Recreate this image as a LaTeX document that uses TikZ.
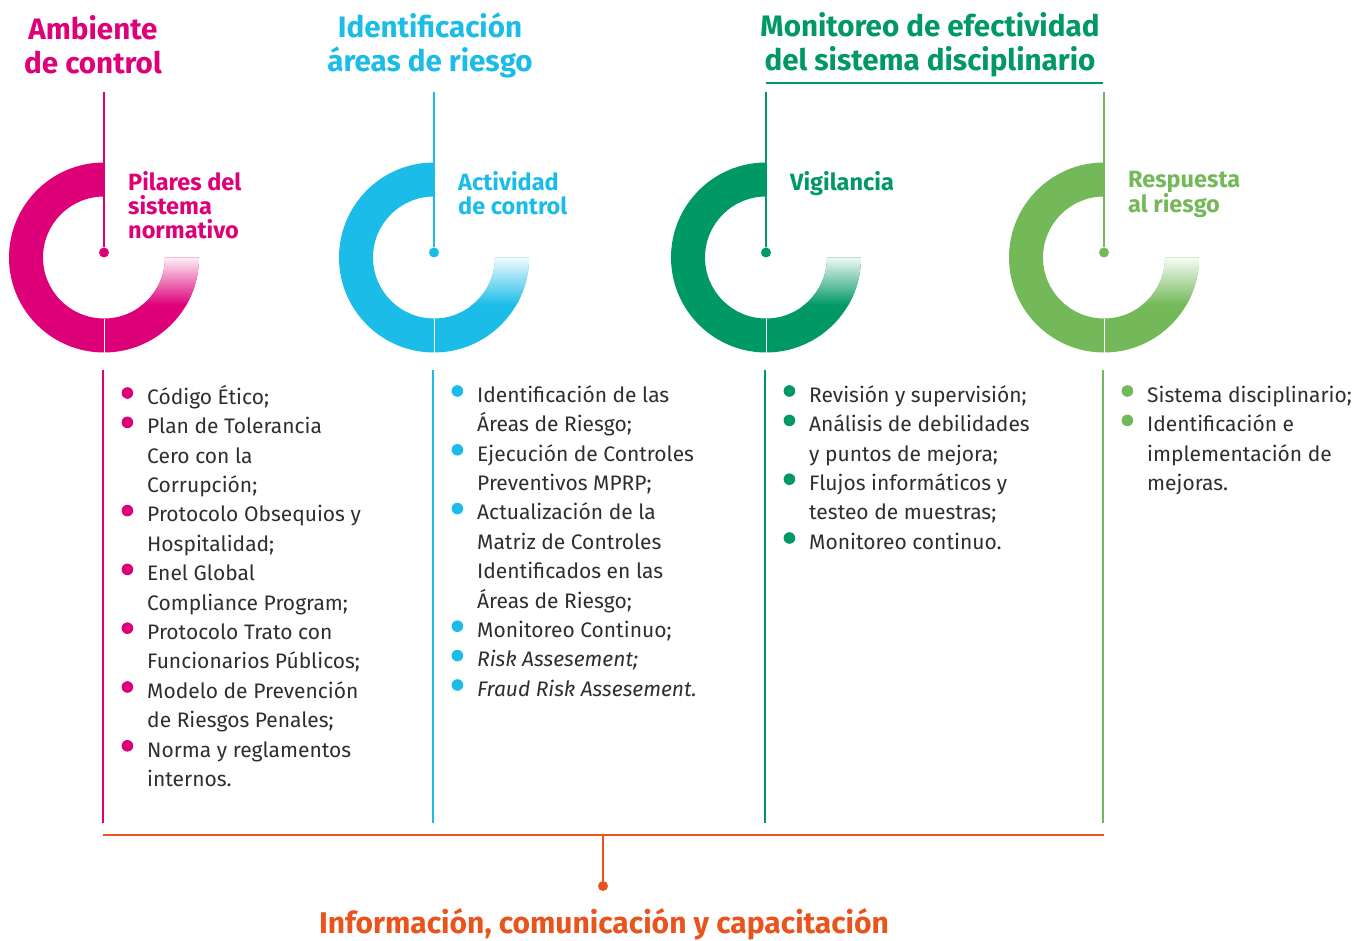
\documentclass[tikz,border=0pt]{standalone}
\usepackage{fontspec}
\setmainfont{Fira Sans}
\usetikzlibrary{positioning}
\definecolor{enelpink}{HTML}{DE0079}
\definecolor{enelcyan}{HTML}{1BBCE8}
\definecolor{eneldkgreen}{HTML}{009864}
\definecolor{enelgreen}{HTML}{73B959}
\definecolor{enelorange}{HTML}{E8541C}
\definecolor{bodytext}{HTML}{2E2E2E}
\tikzset{
  head/.style={font=\bfseries\fontsize{29.6}{34}\selectfont, align=center, inner sep=0},
  sub/.style={font=\bfseries\fontsize{23.5}{24}\selectfont, align=left, anchor=north west, inner sep=0},
  list/.style={font=\fontsize{21}{29.4}\selectfont, align=left, anchor=north west, inner sep=0, text=bodytext},
  dot/.style={circle, fill, inner sep=0, minimum size=10},
}
\newcommand{\bul}[1]{\llap{\textcolor{#1}{\raisebox{0.5ex}{\tikz\fill (0,0) circle (5.8pt);}}\hspace{14pt}}}
\begin{document}
\begin{tikzpicture}[x=1pt,y=1pt]
    \useasboundingbox (0,0) rectangle (1367,-941);
    % the four rings
    \foreach \cx/\col/\n in {104/enelpink/1,434/enelcyan/2,766/eneldkgreen/3,1104/enelgreen/4}{
        \begin{scope}
            \clip (\cx,-162.5) arc[start angle=90,end angle=360,radius=95]
                -- (\cx+61,-257.5) arc[start angle=360,end angle=90,radius=61] -- cycle;
            \fill[\col] (\cx-96,-160) rectangle (\cx+96,-355);
            \shade[top color=\col!6, bottom color=\col] (\cx,-257.5) rectangle (\cx+96,-305);
        \end{scope}
        \draw[white, line width=0.6] (\cx,-318.5) -- (\cx,-352.5);
        \node[dot, \col] (dot\n) at (\cx,-252.5) {};
        \coordinate (top\n) at (\cx,-92);
        \coordinate (lowA\n) at (\cx-1,-370);
        \coordinate (lowB\n) at (\cx-1,-823);
        \draw[\col, line width=1.3] (top\n) -- (dot\n);
        \draw[\col, line width=1.3] (lowA\n) -- (lowB\n);
    }
    % headings
    \node[head, text=enelpink] (ambiente) at (93,-45) {Ambiente\\de control};
    \node[head, text=enelcyan] (areas) at (430,-45) {Identificación\\áreas de riesgo};
    \node[head, text=eneldkgreen] (monitoreo) at (930,-45) {Monitoreo de efectividad\\del sistema disciplinario};
    \draw[eneldkgreen, line width=1.3] (766,-83) -- (1103,-83);
    % ring labels
    \node[sub, text=enelpink] (pilares) at (128,-171) {Pilares del\\sistema\\normativo};
    \node[sub, text=enelcyan] (actividad) at (458,-171) {Actividad\\de control};
    \node[sub, text=eneldkgreen] (vigilancia) at (790,-171) {Vigilancia};
    \node[sub, text=enelgreen] (respuesta) at (1128,-171) {Respuesta\\al riesgo};
    % lists
    \node[list] (listA) at (147,-385) {\bul{enelpink}Código Ético;\\
        \bul{enelpink}Plan de Tolerancia\\Cero con la\\Corrupción;\\
        \bul{enelpink}Protocolo Obsequios y\\Hospitalidad;\\
        \bul{enelpink}Enel Global\\Compliance Program;\\
        \bul{enelpink}Protocolo Trato con\\Funcionarios Públicos;\\
        \bul{enelpink}Modelo de Prevención\\de Riesgos Penales;\\
        \bul{enelpink}Norma y reglamentos\\internos.};
    \node[list] (listB) at (477,-385) {\bul{enelcyan}Identificación de las\\Áreas de Riesgo;\\
        \bul{enelcyan}Ejecución de Controles\\Preventivos MPRP;\\
        \bul{enelcyan}Actualización de la\\Matriz de Controles\\Identificados en las\\Áreas de Riesgo;\\
        \bul{enelcyan}Monitoreo Continuo;\\
        \bul{enelcyan}\textit{Risk Assesement;}\\
        \bul{enelcyan}\textit{Fraud Risk Assesement.}};
    \node[list] (listC) at (809,-385) {\bul{eneldkgreen}Revisión y supervisión;\\
        \bul{eneldkgreen}Análisis de debilidades\\y puntos de mejora;\\
        \bul{eneldkgreen}Flujos informáticos y\\testeo de muestras;\\
        \bul{eneldkgreen}Monitoreo continuo.};
    \node[list] (listD) at (1147,-385) {\bul{enelgreen}Sistema disciplinario;\\
        \bul{enelgreen}Identificación e\\implementación de\\mejoras.};
    % bottom bar
    \coordinate (barL) at (103,-835);
    \coordinate (barR) at (1104,-835);
    \coordinate (barM) at (603,-835);
    \node[dot, enelorange] (infodot) at (603,-886) {};
    \draw[enelorange, line width=1.8] (barL) -- (barR);
    \draw[enelorange, line width=1.3] (barM) -- (infodot);
    \node[head, font=\bfseries\fontsize{30}{34}\selectfont, text=enelorange] (info) at (604,-924) {Información, comunicación y capacitación};
\end{tikzpicture}
\end{document}
